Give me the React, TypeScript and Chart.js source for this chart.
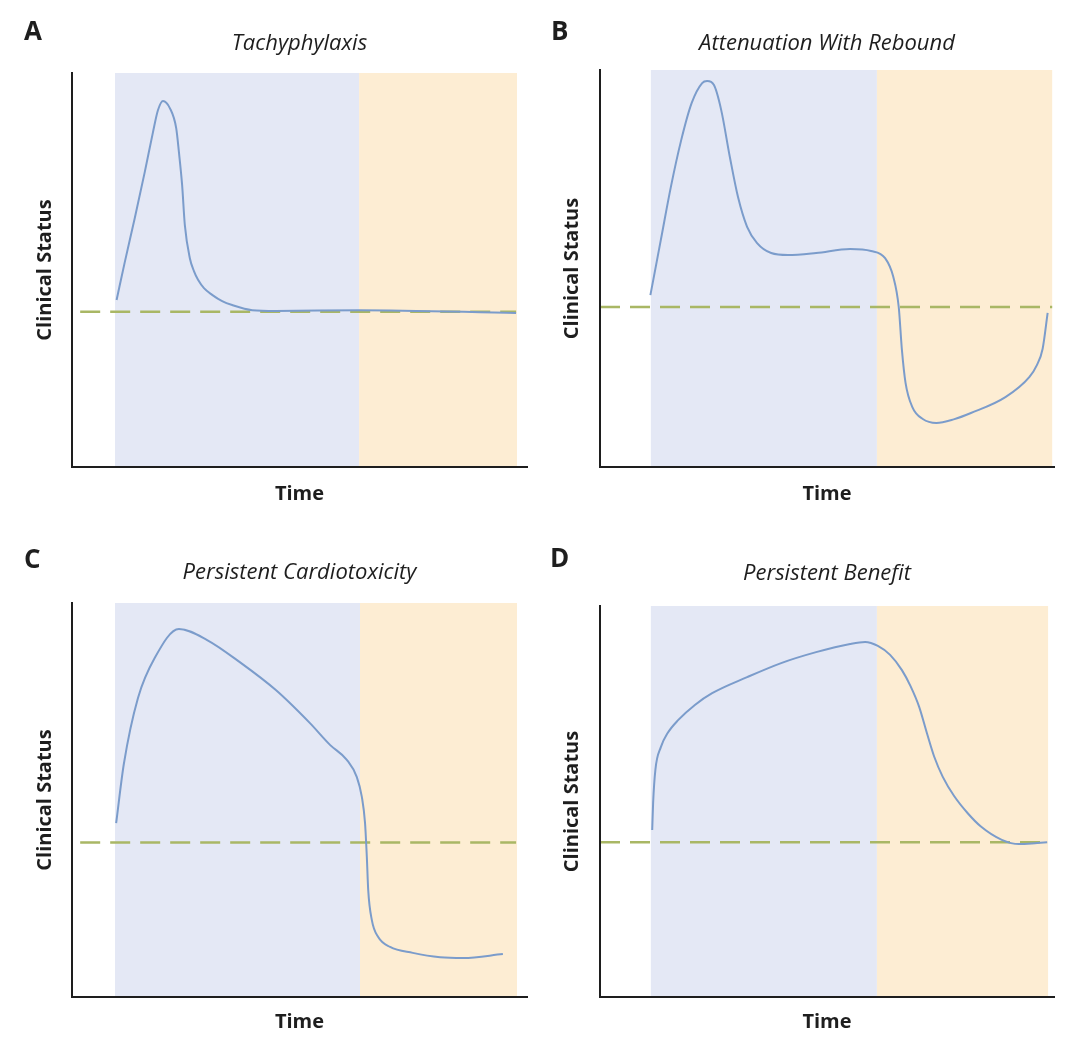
import React, { useEffect, useRef } from "react";
import { Chart, registerables } from "chart.js";

Chart.register(...registerables);

// ---------- text ----------
const panelLetters = ["A", "B", "C", "D"];
const panelTitles = [
  "Tachyphylaxis",
  "Attenuation With Rebound",
  "Persistent Cardiotoxicity",
  "Persistent Benefit",
];
const xAxisTitle = "Time";
const yAxisTitle = "Clinical Status";

// ---------- data (time 0-100, clinical status 0-100) ----------
// phase boundaries: [treatment start, treatment stop, end of follow-up]
const phasesA = [9.45, 63.1, 97.8];
const phasesB = [11.2, 61.0, 99.6];
const phasesC = [9.45, 63.3, 97.8];
const phasesD = [11.2, 61.0, 98.7];

const baselineA = 39.4;
const baselineB = 40.3;
const baselineC = 39.2;
const baselineD = 39.6;

const baselineSpanA = [1.8, 97.6];
const baselineSpanB = [0, 99.6];
const baselineSpanC = [1.8, 97.6];
const baselineSpanD = [0, 98.5];

const timeA = [9.8, 11.6, 13.8, 16.0, 17.8, 18.9, 20.0, 21.5, 22.9, 23.5, 24.2, 24.8, 25.9, 26.8, 27.7, 29.0, 30.8, 33.0, 35.2, 39.6, 44.8, 63.1, 97.6];
const statusA = [42.4, 52.0, 63.2, 74.9, 85.0, 90.6, 92.9, 91.1, 86.0, 79.9, 71.6, 61.4, 53.0, 49.7, 47.5, 45.4, 43.7, 42.1, 41.1, 39.8, 39.6, 39.8, 39.1];

const timeB = [11.1, 13.4, 15.6, 17.9, 20.2, 22.5, 23.6, 25.1, 26.7, 28.6, 30.4, 32.4, 34.6, 37.7, 41.4, 47.6, 55.1, 59.7, 62.8, 64.6, 65.8, 66.5, 67.3, 68.8, 71.1, 74.1, 77.9, 81.7, 89.3, 94.6, 96.2, 97.5, 98.6];
const statusB = [43.3, 57.2, 70.5, 82.4, 91.7, 96.7, 97.2, 96.2, 89.9, 78.1, 68.0, 60.5, 56.4, 53.9, 53.4, 53.9, 54.9, 54.4, 52.6, 47.9, 40.3, 29.5, 21.2, 15.1, 12.1, 11.1, 12.0, 13.6, 17.6, 22.7, 25.6, 29.8, 38.8];

const timeC = [9.7, 11.4, 14.5, 18.2, 23.5, 29.7, 37.1, 44.8, 52.3, 56.7, 60.4, 62.6, 63.7, 64.4, 64.8, 65.1, 65.9, 67.3, 69.9, 74.9, 80.9, 86.0, 94.7];
const statusC = [44.1, 59.2, 75.9, 86.1, 93.4, 90.6, 84.8, 77.9, 69.5, 64.0, 60.2, 55.8, 50.8, 44.2, 35.5, 27.2, 19.5, 15.2, 12.7, 11.2, 10.1, 9.9, 10.9];

const timeD = [11.5, 11.7, 12.2, 13.4, 14.9, 17.2, 20.9, 24.7, 32.4, 39.9, 47.6, 55.1, 58.4, 61.2, 63.9, 66.5, 68.4, 70.3, 72.0, 73.6, 75.5, 78.0, 81.0, 83.9, 88.5, 92.3, 96.3, 98.5];
const statusD = [42.7, 49.6, 58.1, 63.9, 67.5, 70.8, 74.7, 77.7, 81.8, 85.4, 88.2, 90.3, 90.8, 89.8, 87.5, 83.6, 79.5, 74.2, 67.5, 61.5, 56.3, 51.4, 47.0, 43.6, 40.2, 39.1, 39.4, 39.6];

// ---------- style ----------
const FONT = "'Open Sans', 'Noto Sans', 'DejaVu Sans', sans-serif";
const TEXT_COLOR = "#1e1e1e";
const AXIS_COLOR = "#1e1e1e";
const CURVE_COLOR = "#7b9ccb";
const BASELINE_COLOR = "#a9b765";
const ON_TREATMENT_COLOR = "#e4e8f5";
const OFF_TREATMENT_COLOR = "#fdedd3";

// ---------- layout (canvas-relative pixels) ----------
type Layout = {
  left: number; top: number; w: number; h: number;
  areaLeft: number; areaRight: number; areaTop: number; areaBottom: number;
  titleY: number; xTitleY: number; yTitleX: number;
  letterX: number; letterY: number;
};

const layouts: Layout[] = [
  { left: 0, top: 0, w: 540, h: 525, areaLeft: 72, areaRight: 527, areaTop: 73, areaBottom: 467, titleY: 44, xTitleY: 494, yTitleX: 45, letterX: 24, letterY: 40 },
  { left: 540, top: 0, w: 540, h: 525, areaLeft: 60, areaRight: 514, areaTop: 70, areaBottom: 467, titleY: 44, xTitleY: 494, yTitleX: 32, letterX: 11, letterY: 40 },
  { left: 0, top: 530, w: 540, h: 520, areaLeft: 72, areaRight: 527, areaTop: 73, areaBottom: 467, titleY: 43, xTitleY: 492, yTitleX: 45, letterX: 24, letterY: 38 },
  { left: 540, top: 530, w: 540, h: 520, areaLeft: 60, areaRight: 514, areaTop: 76, areaBottom: 467, titleY: 44, xTitleY: 492, yTitleX: 32, letterX: 10, letterY: 37 },
];

const panelData = [
  { time: timeA, status: statusA, phases: phasesA, baseline: baselineA, span: baselineSpanA },
  { time: timeB, status: statusB, phases: phasesB, baseline: baselineB, span: baselineSpanB },
  { time: timeC, status: statusC, phases: phasesC, baseline: baselineC, span: baselineSpanC },
  { time: timeD, status: statusD, phases: phasesD, baseline: baselineD, span: baselineSpanD },
];

const phaseBandsPlugin = {
  id: "phaseBands",
  beforeDatasetsDraw(chart: any, _args: any, opts: any) {
    const { ctx, chartArea } = chart;
    const xs = chart.scales.x;
    const p = opts.phases as number[];
    const x0 = xs.getPixelForValue(p[0]);
    const x1 = xs.getPixelForValue(p[1]);
    const x2 = xs.getPixelForValue(p[2]);
    ctx.save();
    ctx.fillStyle = ON_TREATMENT_COLOR;
    ctx.fillRect(x0, chartArea.top, x1 - x0, chartArea.bottom - chartArea.top);
    ctx.fillStyle = OFF_TREATMENT_COLOR;
    ctx.fillRect(x1, chartArea.top, x2 - x1, chartArea.bottom - chartArea.top);
    ctx.restore();
  },
};

const panelLetterPlugin = {
  id: "panelLetter",
  afterDraw(chart: any, _args: any, opts: any) {
    const { ctx } = chart;
    ctx.save();
    ctx.font = `bold 26px ${FONT}`;
    ctx.fillStyle = TEXT_COLOR;
    ctx.textAlign = "left";
    ctx.textBaseline = "alphabetic";
    ctx.fillText(opts.text, opts.x, opts.y);
    ctx.restore();
  },
};

function Panel({ index }: { index: number }) {
  const ref = useRef<HTMLCanvasElement>(null);
  const L = layouts[index];
  useEffect(() => {
    const d = panelData[index];
    const curve = d.time.map((t, i) => ({ x: t, y: d.status[i] }));
    const base = d.span.map((t) => ({ x: t, y: d.baseline }));
    const titleLH = 26.4;
    const chart = new Chart(ref.current as HTMLCanvasElement, {
      type: "line",
      data: {
        datasets: [
          {
            data: curve,
            borderColor: CURVE_COLOR,
            borderWidth: 2,
            pointRadius: 0,
            cubicInterpolationMode: "monotone",
            fill: false,
          },
          {
            data: base,
            borderColor: BASELINE_COLOR,
            borderWidth: 2.5,
            borderDash: [20, 10],
            pointRadius: 0,
            tension: 0,
            fill: false,
          },
        ],
      },
      options: {
        responsive: false,
        animation: false,
        events: [],
        layout: { padding: { left: 0, right: L.w - L.areaRight, top: 0, bottom: 0 } },
        plugins: {
          legend: { display: false },
          tooltip: { enabled: false },
          title: {
            display: true,
            text: panelTitles[index],
            fullSize: false,
            color: TEXT_COLOR,
            font: { family: FONT, size: 22, style: "italic", weight: "normal", lineHeight: 1.2 },
            padding: { top: L.titleY - titleLH / 2, bottom: L.areaTop - L.titleY - titleLH / 2 },
          },
          phaseBands: { phases: d.phases },
          panelLetter: { text: panelLetters[index], x: L.letterX, y: L.letterY },
        } as any,
        scales: {
          x: {
            type: "linear",
            min: 0,
            max: 100,
            grid: { display: false },
            ticks: { display: false },
            border: { display: true, color: AXIS_COLOR, width: 2, z: 1 },
            title: {
              display: true,
              text: xAxisTitle,
              color: TEXT_COLOR,
              font: { family: FONT, size: 20, weight: "bold", lineHeight: 1.2 },
              padding: { top: 0, bottom: L.h - L.xTitleY - 12 },
            },
            afterFit: (s: any) => {
              s.height = L.h - L.areaBottom;
            },
          },
          y: {
            type: "linear",
            min: 0,
            max: 100,
            grid: { display: false },
            ticks: { display: false },
            border: { display: true, color: AXIS_COLOR, width: 2, z: 1 },
            title: {
              display: true,
              text: yAxisTitle,
              color: TEXT_COLOR,
              font: { family: FONT, size: 20, weight: "bold", lineHeight: 1.2 },
              padding: { top: L.yTitleX - 12, bottom: 0 },
            },
            afterFit: (s: any) => {
              s.width = L.areaLeft;
            },
          },
        },
      } as any,
      plugins: [phaseBandsPlugin, panelLetterPlugin],
    });
    return () => chart.destroy();
  }, [index]);
  return (
    <canvas
      ref={ref}
      width={L.w}
      height={L.h}
      style={{ position: "absolute", left: L.left, top: L.top, width: L.w, height: L.h }}
    />
  );
}

export default function App() {
  return (
    <div style={{ position: "absolute", left: 0, top: 0, width: 1080, height: 1050, background: "#ffffff" }}>
      {[0, 1, 2, 3].map((i) => (
        <Panel key={i} index={i} />
      ))}
    </div>
  );
}
